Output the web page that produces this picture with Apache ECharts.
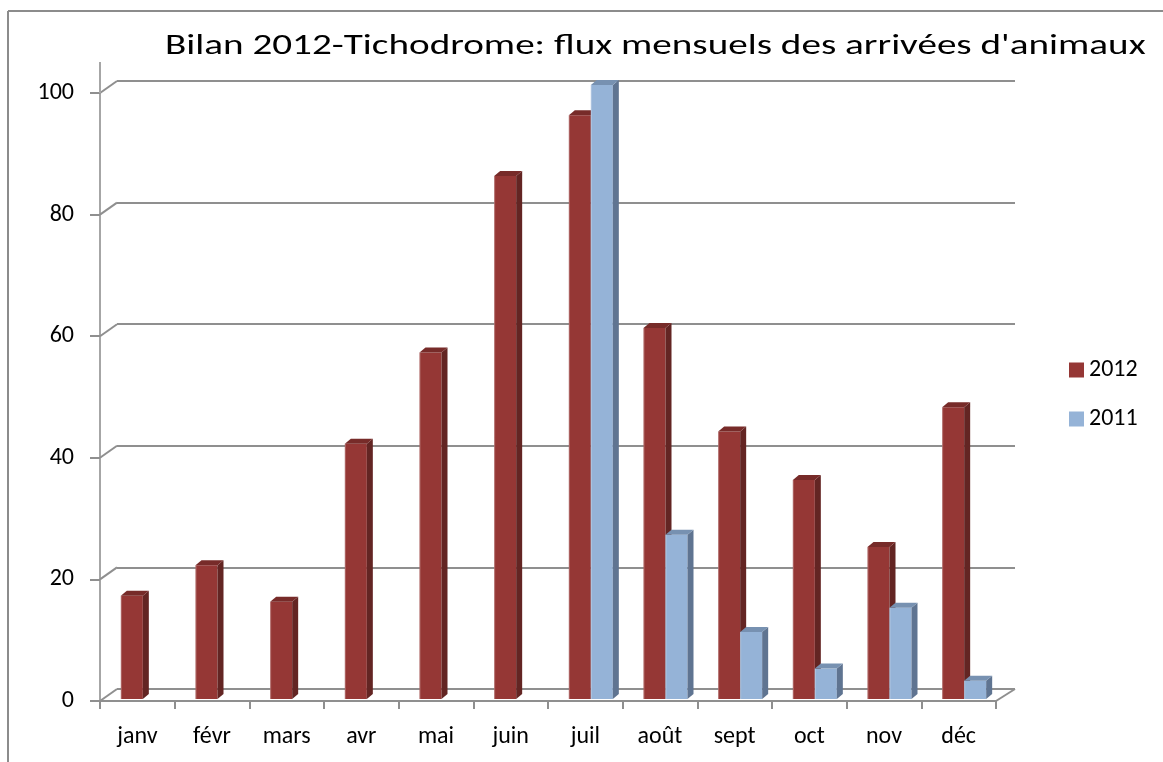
<!DOCTYPE html>
<html>
<head>
<meta charset="utf-8">
<script src="https://cdn.jsdelivr.net/npm/echarts@6/dist/echarts.min.js"></script>
<style>
  html, body { margin: 0; padding: 0; background: #fff; }
  #app { width: 1163px; height: 762px; }
</style>
</head>
<body>
<div id="app"></div>
<script>
// valeurs
var months = ['janv', 'févr', 'mars', 'avr', 'mai', 'juin', 'juil', 'août', 'sept', 'oct', 'nov', 'déc'];
var arrivees2012 = [17, 22, 16, 42, 57, 86, 96, 61, 44, 36, 25, 48];
var arrivees2011 = [null, null, null, null, null, null, 101, 27, 11, 5, 15, 3];
var yTicks = [0, 20, 40, 60, 80, 100];

var FONT = 'Calibri, Carlito, Lato, sans-serif';
var GRID_COLOR = '#8f8f8f';
var DX = 17, DY = 12; // profondeur du mur du fond

var myChart = echarts.init(document.getElementById('app'));

// colonne 3D : face avant, côté droit, dessus
function bar3d(slot, front, side, top) {
  return function (params, api) {
    var v = api.value(1);
    if (v == null || isNaN(v)) return;
    var cat = api.value(0);
    var p0 = api.coord([cat, 0]);
    var p1 = api.coord([cat, v]);
    var w = 22, dx = 6, dy = 5;
    var x = p0[0] + 5.5 - w + slot * w;
    var yb = p0[1] - 2;
    var yt = p1[1] - 2;
    return {
      type: 'group',
      children: [
        { type: 'rect', shape: { x: x, y: yt, width: w, height: yb - yt }, style: { fill: front } },
        { type: 'polygon', shape: { points: [[x + w, yt], [x + w + dx, yt - dy], [x + w + dx, yb - dy], [x + w, yb]] }, style: { fill: side } },
        { type: 'polygon', shape: { points: [[x, yt], [x + dx, yt - dy], [x + w + dx, yt - dy], [x + w, yt]] }, style: { fill: top } },
        { type: 'line', shape: { x1: x + 0.5, y1: yt, x2: x + 0.5, y2: yb }, style: { stroke: 'rgba(255,255,255,0.25)', lineWidth: 1 } }
      ]
    };
  };
}

// liaisons diagonales entre l'axe avant et le mur du fond
function wallLinks(params, api) {
  var v = api.value(1);
  var p = api.coord([0, v]);
  var band = api.size([1, 0])[0];
  var x = p[0] - band / 2;
  var kids = [
    { type: 'line', shape: { x1: x, y1: p[1], x2: x + DX, y2: p[1] - DY }, style: { stroke: GRID_COLOR, lineWidth: 2 } }
  ];
  if (v === 0) {
    var r = api.coord([months.length - 1, 0]);
    var xr = r[0] + band / 2;
    kids.push({ type: 'line', shape: { x1: xr, y1: r[1], x2: xr + DX + 2, y2: r[1] - DY }, style: { stroke: GRID_COLOR, lineWidth: 2 } });
  }
  if (v === 100) {
    kids.push({ type: 'line', shape: { x1: x, y1: p[1], x2: x, y2: p[1] - 31 }, style: { stroke: '#a6a6a6', lineWidth: 2 } });
  }
  return { type: 'group', children: kids };
}

var option = {
  animation: false,
  backgroundColor: '#fff',
  textStyle: { fontFamily: FONT },
  legend: {
    data: ['2012', '2011'],
    orient: 'vertical',
    left: 1069,
    top: 358,
    padding: 0,
    icon: 'rect',
    itemWidth: 15,
    itemHeight: 15,
    itemGap: 25,
    textStyle: { fontFamily: FONT, fontSize: 24, color: '#000' }
  },
  graphic: [
    { type: 'line', shape: { x1: 8, y1: 11, x2: 1163, y2: 11 }, style: { stroke: '#8c8c8c', lineWidth: 2 } },
    { type: 'line', shape: { x1: 8, y1: 11, x2: 8, y2: 762 }, style: { stroke: '#8c8c8c', lineWidth: 2 } },
    {
      // titre, étiré comme dans l'original
      type: 'text',
      x: 165,
      y: 47,
      scaleX: 1.35,
      style: {
        text: 'Bilan 2012-Tichodrome: flux mensuels des arrivées d\'animaux',
        font: '29px ' + FONT,
        fill: '#000',
        verticalAlign: 'middle'
      }
    }
  ],
  grid: [
    { left: 100, right: 167, top: 93, bottom: 61 },
    { left: 100 + DX, right: 167 - DX - 2, top: 93 - DY, bottom: 61 + DY }
  ],
  xAxis: [
    {
      type: 'category',
      gridIndex: 0,
      data: months,
      axisLine: { lineStyle: { color: GRID_COLOR, width: 2 } },
      axisTick: { show: true, length: 8, lineStyle: { color: GRID_COLOR, width: 2 } },
      axisLabel: { color: '#000', fontSize: 24, fontFamily: FONT, margin: 24 }
    },
    {
      type: 'category',
      gridIndex: 1,
      data: months,
      show: false
    }
  ],
  yAxis: [
    {
      type: 'value',
      gridIndex: 0,
      min: 0,
      max: 100,
      interval: 20,
      axisLine: { show: true, lineStyle: { color: '#a6a6a6', width: 2 } },
      axisTick: { show: true, length: 10, lineStyle: { color: GRID_COLOR, width: 2 } },
      axisLabel: { color: '#000', fontSize: 24, fontFamily: FONT, margin: 26 },
      splitLine: { show: false }
    },
    {
      type: 'value',
      gridIndex: 1,
      min: 0,
      max: 100,
      interval: 20,
      axisLine: { show: false },
      axisTick: { show: false },
      axisLabel: { show: false },
      splitLine: { show: true, showMinLine: true, showMaxLine: true, lineStyle: { color: GRID_COLOR, width: 2 } }
    }
  ],
  series: [
    {
      name: 'liaisons',
      type: 'custom',
      xAxisIndex: 0,
      yAxisIndex: 0,
      silent: true,
      z: 1,
      renderItem: wallLinks,
      data: yTicks.map(function (v) { return [0, v]; })
    },
    {
      name: '2012',
      type: 'custom',
      xAxisIndex: 0,
      yAxisIndex: 0,
      z: 3,
      itemStyle: { color: '#953735' },
      renderItem: bar3d(0, '#953735', '#632523', '#772b29'),
      data: arrivees2012.map(function (v, i) { return [i, v]; })
    },
    {
      name: '2011',
      type: 'custom',
      xAxisIndex: 0,
      yAxisIndex: 0,
      z: 4,
      itemStyle: { color: '#95b3d7' },
      renderItem: bar3d(1, '#95b3d7', '#5f7491', '#7791b1'),
      data: arrivees2011.map(function (v, i) { return [i, v == null ? '-' : v]; })
    }
  ]
};

myChart.setOption(option);
</script>
</body>
</html>
